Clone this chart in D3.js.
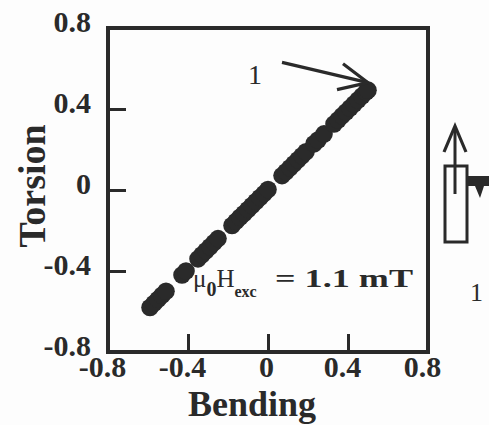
<!DOCTYPE html>
<html><head><meta charset="utf-8">
<script src="https://cdn.jsdelivr.net/npm/d3@7"></script>
<style>
html,body{margin:0;padding:0;background:#fdfdfd;}
svg{display:block;}
text{font-family:"Liberation Serif","Times New Roman",serif;fill:#2a2a2a;}
</style></head><body>
<script>
// Data
const bending = [-0.59,-0.57,-0.55,-0.53,-0.51,
  -0.43,-0.41,
  -0.35,-0.33,-0.31,-0.29,-0.27,-0.25,
  -0.18,-0.16,-0.14,-0.12,-0.10,-0.08,-0.06,-0.04,-0.02,0.00,
  0.07,0.09,0.11,0.13,0.15,0.17,0.19,
  0.23,0.25,0.28,
  0.33,0.35,0.37,0.39,0.41,0.43,0.45,0.47,0.49,0.50];
const torsion = [-0.58,-0.56,-0.54,-0.52,-0.50,
  -0.42,-0.40,
  -0.34,-0.32,-0.30,-0.28,-0.26,-0.24,
  -0.175,-0.155,-0.135,-0.116,-0.096,-0.077,-0.057,-0.037,-0.018,0.002,
  0.071,0.090,0.110,0.130,0.149,0.169,0.189,
  0.228,0.247,0.277,
  0.326,0.346,0.366,0.385,0.405,0.425,0.444,0.464,0.484,0.493];
const xTicks = [-0.8,-0.4,0,0.4,0.8];
const yTicks = [-0.8,-0.4,0,0.4,0.8];
const tickLabels = {"-0.8":"-0.8","-0.4":"-0.4","0":"0","0.4":"0.4","0.8":"0.8"};
const xTitle = "Bending";
const yTitle = "Torsion";
const arrowLabel = "1";
const sideLabel = "1";
const fieldText = "= 1.1 mT";

const W = 489, H = 425;
const m = {left:108, top:28, right:61, bottom:73};
const iw = W - m.left - m.right, ih = H - m.top - m.bottom;
const ink = "#2a2a2a";

const svg = d3.select("body").append("svg").attr("width", W).attr("height", H);
const g = svg.append("g").attr("transform", `translate(${m.left},${m.top})`);

const x = d3.scaleLinear().domain([-0.8,0.8]).range([0, iw]);
const y = d3.scaleLinear().domain([-0.8,0.8]).range([ih, 0]);

const fmt = d => tickLabels[String(d)];

// axes
const xa = g.append("g").attr("transform", `translate(0,${ih})`)
  .call(d3.axisBottom(x).tickValues(xTicks).tickFormat(fmt).tickSize(-18).tickSizeOuter(0).tickPadding(4));
const ya = g.append("g")
  .call(d3.axisLeft(y).tickValues(yTicks).tickFormat(fmt).tickSize(-18).tickSizeOuter(0).tickPadding(17));
[xa, ya].forEach(a => {
  a.select(".domain").remove();
  a.selectAll("line").attr("stroke", ink).attr("stroke-width", 3);
  a.selectAll("text").attr("font-size", 30).attr("font-weight", "bold").attr("fill", ink)
    .attr("font-family", '"Liberation Serif",serif');
});
xa.selectAll("text").attr("dx", d => d === 0 ? -2 : -6);
ya.selectAll("text").attr("dy", 3);

// frame
g.append("rect").attr("x",0).attr("y",0).attr("width",iw).attr("height",ih)
  .attr("fill","none").attr("stroke",ink).attr("stroke-width",4);

// data dots
const pts = bending.map((b,i) => ({b, t: torsion[i]}));
g.append("g").selectAll("circle").data(pts).join("circle")
  .attr("cx", d => x(d.b)).attr("cy", d => y(d.t)).attr("r", 8.8).attr("fill", ink);

// axis titles
svg.append("text").attr("x", m.left + x(-0.08)).attr("y", 416)
  .attr("text-anchor","middle").attr("font-size",36).attr("font-weight","bold").text(xTitle);
svg.append("text").attr("transform", `translate(45,${m.top + y(0.02)}) rotate(-90)`)
  .attr("text-anchor","middle").attr("font-size",38).attr("font-weight","bold").text(yTitle);

// annotation mu0 Hexc = 1.1 mT
const ax0 = m.left + x(-0.375);
const ann = svg.append("text").attr("x", ax0).attr("y", 287).attr("font-size", 25);
ann.append("tspan").text("\u03bc");
ann.append("tspan").attr("dy", 9).attr("font-size", 20).attr("font-weight","bold").text("0");
ann.append("tspan").attr("dy", -9).text("H");
ann.append("tspan").attr("dy", 10).attr("font-size", 16).attr("font-weight","bold").text("exc");
svg.append("text").attr("x", m.left + x(0.035)).attr("y", 287).attr("font-size", 26)
  .attr("font-weight","bold").attr("textLength", 138).attr("lengthAdjust","spacingAndGlyphs")
  .text(fieldText);

// arrow "1" pointing to upper end of trace
const tip = [m.left + x(0.5), m.top + y(0.53)];
const tail = [m.left + x(0.07), m.top + y(0.63)];
svg.append("text").attr("x", m.left + x(-0.1)).attr("y", 84).attr("font-size", 28).text(arrowLabel);
svg.append("line").attr("x1", tail[0]).attr("y1", tail[1]).attr("x2", tip[0]).attr("y2", tip[1])
  .attr("stroke", ink).attr("stroke-width", 3.2);
svg.append("path")
  .attr("d", `M${tip[0]-25},${tip[1]-19} L${tip[0]},${tip[1]} L${tip[0]-31},${tip[1]+7}`)
  .attr("fill","none").attr("stroke", ink).attr("stroke-width", 3.2).attr("stroke-linejoin","miter");

// side diagram
const sx = m.left + iw + 27;
svg.append("line").attr("x1", sx).attr("y1", 128).attr("x2", sx).attr("y2", 194)
  .attr("stroke", ink).attr("stroke-width", 3);
svg.append("path").attr("d", `M${sx-11},${152} L${sx},${126} L${sx+11},${152}`)
  .attr("fill","none").attr("stroke", ink).attr("stroke-width", 3.2);
svg.append("rect").attr("x", sx-10).attr("y", 166).attr("width", 22).attr("height", 76)
  .attr("fill","none").attr("stroke", ink).attr("stroke-width", 3);
svg.append("path").attr("d", `M${sx+12},176 L${W},176 L${W},186 L${sx+29},186 L${sx+25},198 L${sx+20},186 L${sx+12},186 Z`)
  .attr("fill", ink);
svg.append("text").attr("x", sx + 15).attr("y", 301).attr("font-size", 26).text(sideLabel);
</script>
</body></html>
